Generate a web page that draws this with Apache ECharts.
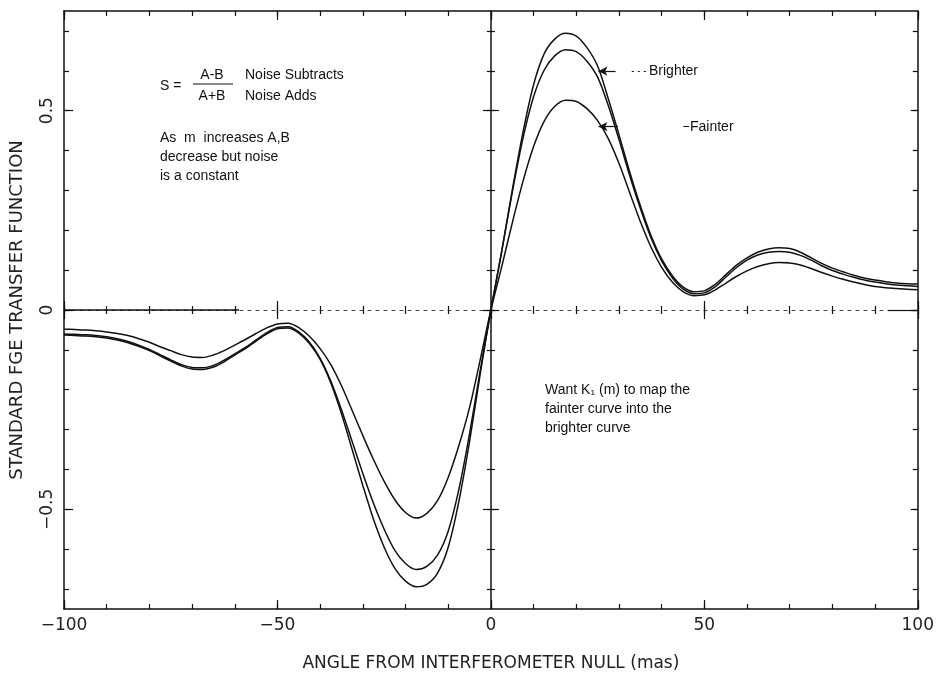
<!DOCTYPE html>
<html>
<head>
<meta charset="utf-8">
<title>Standard FGE transfer function</title>
<script src="https://cdn.jsdelivr.net/npm/echarts@6.0.0/dist/echarts.min.js"></script>
<style>
html, body { margin: 0; padding: 0; background: #fff; }
#chart { width: 937px; height: 677px; }
</style>
</head>
<body>
<div id="chart"></div>
<script>
// angle from null (mas)
const xs = [-100, -97.5, -95, -92.5, -90, -87.5, -85, -82.5, -80, -77.5,
  -75, -72.5, -70, -67.5, -65, -62.5, -60, -57.5, -55, -52.5,
  -50, -47.5, -45, -42.5, -40, -37.5, -35, -32.5, -30, -27.5,
  -25, -22.5, -20, -17.5, -15, -12.5, -10, -7.5, -5, -2.5,
  0,
  2.5, 5, 7.5, 10, 12.5, 15, 17.5, 20, 22.5, 25,
  27.5, 30, 32.5, 35, 37.5, 40, 42.5, 45, 47.5, 50,
  52.5, 55, 57.5, 60, 62.5, 65, 67.5, 70, 72.5, 75,
  77.5, 80, 82.5, 85, 87.5, 90, 92.5, 95, 97.5, 100];

// outer (brightest) curve
const curveBright = [-0.063, -0.064, -0.065, -0.067, -0.07, -0.075, -0.082, -0.091, -0.102, -0.115,
  -0.128, -0.14, -0.148, -0.149, -0.143, -0.13, -0.113, -0.097, -0.078, -0.06,
  -0.047, -0.045, -0.058, -0.084, -0.124, -0.183, -0.26, -0.35, -0.44, -0.525,
  -0.595, -0.648, -0.68, -0.694, -0.688, -0.66, -0.595, -0.48, -0.33, -0.16,
  0,
  0.145, 0.30, 0.445, 0.565, 0.643, 0.68, 0.694, 0.687, 0.658, 0.612,
  0.53, 0.44, 0.347, 0.262, 0.187, 0.128, 0.086, 0.058, 0.046, 0.048,
  0.064, 0.088, 0.112, 0.131, 0.145, 0.153, 0.156, 0.154, 0.145, 0.131,
  0.117, 0.105, 0.096, 0.087, 0.08, 0.075, 0.071, 0.068, 0.066, 0.065];

// middle curve
const curveMid = [-0.06, -0.061, -0.062, -0.064, -0.067, -0.072, -0.079, -0.088, -0.099, -0.112,
  -0.125, -0.137, -0.144, -0.145, -0.139, -0.126, -0.11, -0.094, -0.075, -0.057,
  -0.044, -0.042, -0.055, -0.081, -0.121, -0.178, -0.25, -0.33, -0.41, -0.485,
  -0.55, -0.603, -0.636, -0.651, -0.643, -0.615, -0.555, -0.45, -0.31, -0.152,
  0,
  0.145, 0.295, 0.43, 0.535, 0.602, 0.638, 0.653, 0.648, 0.624, 0.584,
  0.513, 0.428, 0.338, 0.255, 0.181, 0.123, 0.081, 0.053, 0.041, 0.043,
  0.058, 0.082, 0.106, 0.125, 0.138, 0.145, 0.147, 0.145, 0.137, 0.125,
  0.111, 0.099, 0.09, 0.082, 0.075, 0.07, 0.066, 0.063, 0.061, 0.059];

// inner (fainter) curve
const curveFaint = [-0.048, -0.049, -0.05, -0.052, -0.055, -0.059, -0.064, -0.072, -0.081, -0.092,
  -0.102, -0.112, -0.118, -0.119, -0.113, -0.102, -0.088, -0.074, -0.059, -0.045,
  -0.035, -0.033, -0.044, -0.066, -0.097, -0.137, -0.19, -0.252, -0.315, -0.375,
  -0.43, -0.476, -0.508, -0.522, -0.51, -0.478, -0.42, -0.34, -0.245, -0.125,
  0,
  0.107, 0.218, 0.322, 0.41, 0.474, 0.511, 0.526, 0.523, 0.505, 0.475,
  0.43, 0.368, 0.295, 0.222, 0.158, 0.107, 0.07, 0.046, 0.036, 0.038,
  0.05, 0.067, 0.084, 0.098, 0.109, 0.116, 0.119, 0.118, 0.113, 0.104,
  0.094, 0.085, 0.077, 0.07, 0.064, 0.059, 0.056, 0.054, 0.052, 0.051];

const xTicks = [-100, -90, -80, -70, -60, -50, -40, -30, -20, -10, 0, 10, 20, 30, 40, 50, 60, 70, 80, 90, 100];
const xLabels = [-100, -50, 0, 50, 100];
const yTicks = [-0.7, -0.6, -0.5, -0.4, -0.3, -0.2, -0.1, 0, 0.1, 0.2, 0.3, 0.4, 0.5, 0.6, 0.7];
const yLabels = [-0.5, 0, 0.5];

const myChart = echarts.init(document.getElementById('chart'));

const ink = '#111';
const tickLine = {color: ink, width: 1.2};
const frameLine = {color: ink, width: 1.5};
const zeroLine = {color: '#444', width: 1, type: [3, 5]};
const minus = v => String(v).replace('-', '\u2212');
const axisText = {fontFamily: 'DejaVu Sans', fontSize: 17, color: '#222'};

function xAx(position, ticks, len, inside, line, onZero) {
  return {
    type: 'value', min: -100, max: 100, position: position,
    axisLine: {show: !!line, onZero: onZero, onZeroAxisIndex: 0, lineStyle: line || frameLine},
    axisTick: {show: true, inside: inside, length: len, customValues: ticks, lineStyle: tickLine},
    axisLabel: {show: false},
    splitLine: {show: false}
  };
}
function yAx(position, ticks, len, inside, line, onZero) {
  return {
    type: 'value', min: -0.75, max: 0.75, position: position,
    axisLine: {show: !!line, onZero: onZero, onZeroAxisIndex: 0, lineStyle: line || frameLine},
    axisTick: {show: true, inside: inside, length: len, customValues: ticks, lineStyle: tickLine},
    axisLabel: {show: false},
    splitLine: {show: false}
  };
}

const xBottom = xAx('bottom', xTicks, 5, true, frameLine, false);
xBottom.axisLabel = Object.assign({show: true, customValues: xLabels, margin: 8, formatter: minus}, axisText);
xBottom.name = 'ANGLE FROM INTERFEROMETER NULL (mas)';
xBottom.nameLocation = 'middle';
xBottom.nameGap = 46;
xBottom.nameTextStyle = Object.assign({}, axisText);

const yLeft = yAx('left', yLabels, 9, true, null, false);
yLeft.axisLabel = Object.assign({show: true, customValues: yLabels, rotate: 90, margin: 8, formatter: minus}, axisText);
yLeft.name = 'STANDARD FGE TRANSFER FUNCTION';
yLeft.nameLocation = 'middle';
yLeft.nameGap = 38;
yLeft.nameTextStyle = Object.assign({}, axisText, {fontSize: 18});

function curve(name, ys) {
  return {
    name: name, type: 'line', xAxisIndex: 0, yAxisIndex: 0,
    data: xs.map((x, i) => [x, ys[i]]),
    symbol: 'none', smooth: 0.3, silent: true, z: 5,
    lineStyle: {color: ink, width: 1.5}
  };
}

const faint = curve('Fainter', curveFaint);
faint.markLine = {
  silent: true, animation: false, symbol: ['none', 'none'], label: {show: false},
  lineStyle: {color: ink, width: 1.2, type: 'solid'},
  data: [
    [{coord: [-100, 0], lineStyle: {width: 1.5}}, {coord: [-59, 0]}],
    [{coord: [93, 0], lineStyle: {width: 1.2}}, {coord: [100, 0]}],
    [{coord: [29.2, 0.599]}, {coord: [25.2, 0.599], symbol: 'arrow', symbolSize: [7, 9]}],
    [{coord: [33, 0.599], lineStyle: {type: [2, 4], width: 1}}, {coord: [36.6, 0.599]}],
    [{coord: [29.8, 0.46]}, {coord: [25.2, 0.46], symbol: 'arrow', symbolSize: [7, 9]}],
    [{coord: [45.1, 0.46], lineStyle: {width: 1}}, {coord: [46.4, 0.46]}]
  ]
};

const noteFont = {fontFamily: 'Liberation Sans', fontSize: 14, fill: ink};
function note(x, y, text, align) {
  return {type: 'text', x: x, y: y, silent: true, z: 10,
    style: Object.assign({text: text, align: align || 'left', verticalAlign: 'middle'}, noteFont)};
}

const option = {
  animation: false,
  backgroundColor: '#fff',
  textStyle: {fontFamily: 'DejaVu Sans'},
  grid: {left: 63, right: 19, top: 11, bottom: 62},
  xAxis: [
    xBottom,
    xAx('bottom', xLabels, 9, true, null, false),
    xAx('top', xTicks, 5, true, frameLine, false),
    xAx('top', xLabels, 9, true, null, false),
    xAx('bottom', xTicks, 4, true, zeroLine, true),
    xAx('bottom', xTicks, 4, false, null, true),
    xAx('bottom', xLabels, 9, true, null, true),
    xAx('bottom', xLabels, 9, false, null, true)
  ],
  yAxis: [
    yAx('left', yTicks, 5, true, frameLine, false),
    yLeft,
    yAx('right', yTicks, 5, true, frameLine, false),
    yAx('right', yLabels, 7, true, null, false),
    yAx('left', yTicks, 4, true, frameLine, true),
    yAx('left', yTicks, 4, false, null, true),
    yAx('left', yLabels, 8, true, null, true),
    yAx('left', yLabels, 8, false, null, true)
  ],
  series: [
    curve('Brighter', curveBright),
    curve('Middle', curveMid),
    faint
  ],
  graphic: [
    note(160, 86, 'S ='),
    note(212, 75, 'A-B', 'center'),
    {type: 'line', silent: true, shape: {x1: 193, y1: 84, x2: 233, y2: 84}, style: {stroke: ink, lineWidth: 1}},
    note(212, 96, 'A+B', 'center'),
    note(245, 75, 'Noise Subtracts'),
    note(245, 96, 'Noise Adds'),
    note(160, 138, 'As  m  increases A,B'),
    note(160, 157, 'decrease but noise'),
    note(160, 176, 'is a constant'),
    note(649, 71, 'Brighter'),
    note(690, 127, 'Fainter'),
    note(545, 390, 'Want K\u2081 (m) to map the'),
    note(545, 409, 'fainter curve into the'),
    note(545, 428, 'brighter curve')
  ]
};

myChart.setOption(option);
</script>
</body>
</html>
